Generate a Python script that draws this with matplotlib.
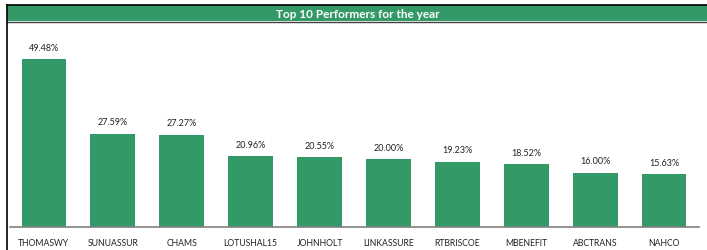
import matplotlib.pyplot as plt
from matplotlib.patches import Rectangle
from matplotlib.lines import Line2D

stocks = ['THOMASWY', 'SUNUASSUR', 'CHAMS', 'LOTUSHAL15', 'JOHNHOLT',
          'LINKASSURE', 'RTBRISCOE', 'MBENEFIT', 'ABCTRANS', 'NAHCO']
gains = [49.48, 27.59, 27.27, 20.96, 20.55, 20.00, 19.23, 18.52, 16.00, 15.63]

green = '#339966'
plt.rcParams['font.family'] = ['Lato', 'DejaVu Sans']

fig = plt.figure(figsize=(7.07, 2.51), dpi=100)
W, H = 707, 251

# header band
fig.patches.append(Rectangle((7 / W, 1 - 22 / H), 1 - 7 / W, 16 / H,
                             transform=fig.transFigure, facecolor=green,
                             edgecolor='none', zorder=0))
fig.lines.append(Line2D([7 / W, 1], [1 - 6 / H, 1 - 6 / H], transform=fig.transFigure,
                        color='black', lw=1.2))
fig.lines.append(Line2D([7 / W, 1], [1 - 22.5 / H, 1 - 22.5 / H], transform=fig.transFigure,
                        color='#404040', lw=1))
fig.lines.append(Line2D([7 / W, 7 / W], [0, 1 - 6 / H], transform=fig.transFigure,
                        color='black', lw=1.2))
fig.text(358 / W, 1 - 14.5 / H, 'Top 10 Performers for the year', color='white',
         fontsize=8.5, fontweight='bold', ha='center', va='center')

ax = fig.add_axes([9.5 / W, 23 / H, 689 / W, 205 / H])
x = range(len(stocks))
ax.bar(x, gains, width=0.65, color=green)
for xi, v in zip(x, gains):
    ax.text(xi, v + 2.2, f'{v:.2f}%', ha='center', va='bottom', fontsize=6.5, color='#222222')

ax.set_xlim(-0.5, len(stocks) - 0.5)
ax.set_ylim(0, 60.5)
ax.set_xticks(list(x))
ax.set_xticklabels(stocks, fontsize=6.2, color='#222222')
ax.tick_params(axis='x', length=0, pad=8)
ax.set_yticks([])
for s in ['top', 'right', 'left']:
    ax.spines[s].set_visible(False)
ax.spines['bottom'].set_color('#808080')
ax.spines['bottom'].set_linewidth(1.2)

fig.savefig('out.png', dpi=100)
